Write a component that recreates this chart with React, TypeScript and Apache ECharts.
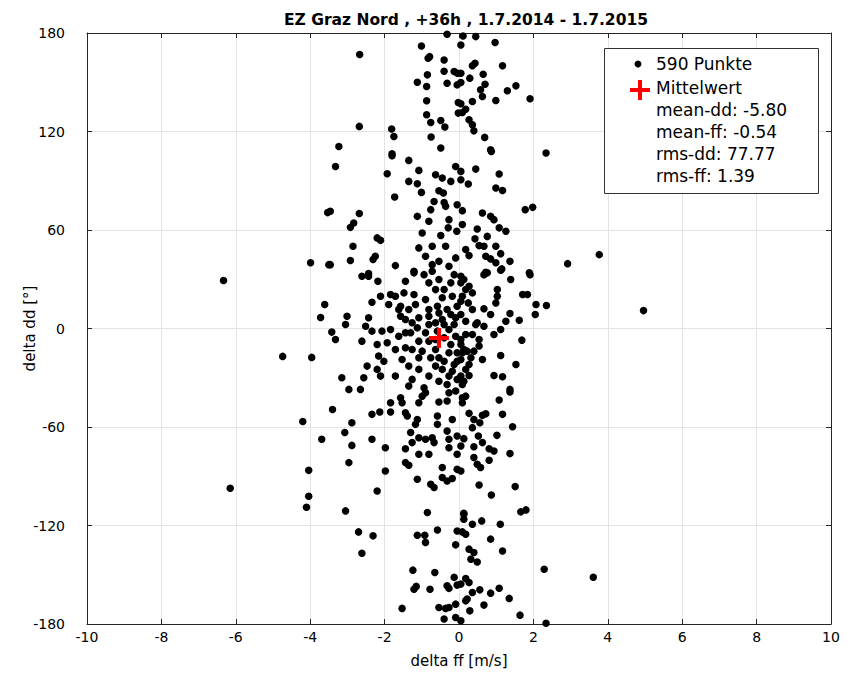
import React, { useEffect, useRef } from "react";
import * as echarts from "echarts";

const chartTitle = "EZ Graz Nord , +36h , 1.7.2014 - 1.7.2015";
const xAxisName = "delta ff [m/s]";
const yAxisName = "delta dd [°]";
const pointCountLabel = "590 Punkte";
const meanLabel = "Mittelwert";
const statLines = ["mean-dd: -5.80", "mean-ff: -0.54", "rms-dd: 77.77", "rms-ff: 1.39"];
const meanPoint: [number, number] = [-0.54, -5.8];

// [delta ff, delta dd]
const scatterPoints: [number, number][] = [
  [-0.32, 179.2], [-1.01, 172.1], [-2.67, 166.9], [-0.79, 165.6], [-0.83, 164.6], [-0.4, 163.6],
  [-0.4, 156.7], [-0.13, 156.5], [-0.04, 155.5], [-0.85, 154.5], [-1.12, 150.0], [-0.87, 147.4],
  [-0.32, 149.4], [-0.05, 148.4], [-0.87, 138.7], [-0.02, 137.7], [-0.87, 130.2], [-0.76, 125.5],
  [-0.49, 126.7], [-0.38, 122.7], [-0.02, 131.2], [-2.68, 123.1], [-1.81, 121.5], [-1.75, 117.0],
  [-0.75, 116.6], [-3.23, 110.9], [-0.49, 109.9], [-1.8, 106.4],
  [0.11, 178.2], [0.45, 177.8], [0.05, 172.7], [0.97, 174.2], [0.36, 160.0], [0.43, 161.6],
  [1.17, 160.0], [0.05, 155.5], [0.65, 154.9], [0.29, 152.5], [0.05, 149.8], [0.7, 148.8],
  [0.58, 145.4], [0.63, 141.3], [1.3, 144.8], [1.53, 147.8], [0.99, 138.9], [1.91, 139.9],
  [0.05, 136.9], [0.36, 138.3], [0.18, 133.6], [0.09, 131.6], [0.27, 127.1], [0.36, 124.1],
  [0.4, 120.4], [0.69, 116.4], [0.85, 108.9], [2.34, 106.9],
  [-3.32, 98.7], [-1.8, 105.2], [-1.93, 94.3], [-1.35, 102.4], [-1.08, 96.3], [-0.63, 93.7],
  [-0.45, 91.7], [-0.22, 89.6], [-0.09, 98.7], [-1.35, 89.6], [-1.12, 88.2], [-1.01, 82.9],
  [-0.54, 83.9], [-0.42, 82.5], [-1.73, 80.1], [-0.67, 77.4], [-0.4, 76.8], [-0.36, 74.4],
  [-0.05, 75.4], [-3.46, 71.4], [-2.68, 70.0], [-1.12, 68.3], [-0.76, 72.4], [-0.81, 65.3],
  [-2.83, 64.3], [-2.92, 61.6], [-0.27, 66.3], [-0.29, 61.3], [-0.06, 59.2], [-0.99, 58.2],
  [-2.2, 55.2], [-2.11, 53.7], [-0.49, 56.6], [-2.85, 50.1], [-1.08, 49.1], [-0.72, 50.1],
  [-0.36, 50.1], [-2.25, 44.0], [-2.31, 42.0], [-2.92, 41.4], [-3.46, 38.9], [-1.71, 38.3],
  [-0.9, 44.0], [-0.72, 38.9], [-0.54, 40.9], [-0.27, 37.9], [-0.09, 43.0], [-1.21, 34.9],
  [-0.72, 34.9], [-2.43, 33.5],
  [0.87, 107.8], [0.05, 95.7], [0.45, 97.1], [1.08, 94.1], [0.05, 90.6], [0.25, 88.0],
  [0.99, 85.6], [1.17, 84.1], [0.09, 71.8], [0.63, 70.4], [0.85, 68.3], [0.94, 66.3],
  [1.78, 72.4], [1.98, 73.8], [0.09, 63.3], [0.49, 60.6], [1.08, 61.3], [1.26, 59.2],
  [0.43, 54.6], [0.76, 56.1], [0.54, 50.5], [0.67, 50.1], [0.99, 50.1], [0.18, 48.1],
  [0.27, 44.4], [1.12, 45.6], [0.72, 44.0], [0.85, 42.4], [0.99, 40.0], [1.37, 40.9],
  [2.92, 39.5], [0.72, 34.2], [1.15, 36.3], [1.89, 33.9],
  [-2.61, 31.8], [-2.43, 31.8], [-2.18, 28.8], [-1.44, 28.8], [-1.21, 33.9], [-0.94, 32.8],
  [-0.81, 27.8], [-0.54, 29.8], [-0.22, 27.8], [-0.13, 32.8], [-2.11, 19.6], [-2.34, 16.0],
  [-1.84, 20.7], [-1.71, 19.6], [-1.48, 21.7], [-1.21, 20.7], [-0.9, 17.6], [-0.45, 18.7],
  [-0.18, 19.6], [-1.89, 14.6], [-1.57, 13.6], [-1.35, 11.6], [-1.17, 14.6], [-0.58, 13.6],
  [-0.32, 11.6], [-0.05, 13.6], [-3.01, 7.5], [-2.43, 6.5], [-1.57, 7.5], [-1.08, 6.5],
  [-0.81, 7.5], [-0.45, 5.5], [-0.09, 6.5], [-3.05, 2.4], [-3.42, -2.2], [-3.32, -6.7],
  [-2.51, 1.4], [-2.34, -1.6], [-2.07, -1.6], [-1.84, -0.6], [-1.62, -4.7], [-1.3, -2.6],
  [-1.12, 0.4], [-0.9, -2.6], [-1.08, -7.7], [-0.81, -7.7], [-0.58, -1.6], [-0.27, -0.6],
  [-0.09, -4.7], [-2.61, -7.7], [-2.2, -9.7], [-1.93, -8.7], [-1.44, -11.7], [-1.26, -12.8],
  [-0.99, -13.8], [-0.63, -12.8], [-0.27, -14.8], [-2.16, -16.8], [-2.02, -19.9], [-2.47, -22.9],
  [-1.53, -18.9], [-1.35, -22.9], [-1.08, -24.9], [-0.63, -22.9], [-0.4, -19.9], [-0.13, -21.9],
  [-2.2, -24.9], [-3.15, -30.0], [-2.56, -30.0], [-2.11, -29.0], [-1.71, -29.0], [-1.26, -31.0],
  [-0.81, -29.0], [-0.54, -32.1], [-0.32, -34.1], [-2.96, -37.1], [-2.65, -37.1], [-1.35, -35.1],
  [-0.94, -36.1], [-0.09, -38.1],
  [-1.62, 11.6], [-1.44, 5.5], [-1.26, 3.5], [-0.81, 2.4], [-0.63, 3.5], [-0.4, -5.7],
  [-0.22, -9.7], [-0.76, -17.8], [-0.45, -24.9], [-0.27, -29.0], [-0.05, -14.8], [-0.05, -31.0],
  [-1.44, -2.6], [-1.71, -12.8], [-1.08, -17.8],
  [-0.63, 23.7], [-0.4, 23.7], [-0.54, 9.5], [-0.22, 8.5], [-0.13, 2.4], [-0.4, 2.4],
  [-0.81, 11.6], [-0.63, -6.7], [-0.05, -19.9], [-0.54, -17.8], [-0.18, -26.0],
  [0.67, 32.8], [0.76, 33.9], [1.12, 35.5], [1.91, 32.8], [0.05, 27.8], [0.27, 25.7],
  [1.39, 29.8], [1.03, 23.7], [1.03, 19.6], [1.71, 20.7], [1.84, 20.7], [0.99, 15.6],
  [0.05, 16.6], [0.25, 15.6], [2.07, 14.6], [2.35, 14.0], [0.36, 11.6], [0.67, 12.0],
  [0.85, 8.5], [1.37, 9.1], [2.05, 8.5], [0.05, 8.5], [0.18, 4.4], [0.49, 3.5],
  [0.67, 1.4], [1.26, 4.4], [1.62, 5.0], [0.36, -3.7], [0.18, -3.7], [1.12, -0.6],
  [0.94, -3.7], [1.69, -7.1], [0.05, -6.7], [0.54, -6.7], [0.54, -10.7], [0.09, -14.8],
  [0.22, -13.8], [0.4, -13.8], [0.05, -18.9], [0.27, -21.9], [0.63, -18.9], [1.12, -16.4],
  [1.53, -21.9], [0.27, -28.6], [0.94, -28.6], [1.17, -29.4], [0.09, -34.1], [1.37, -37.1],
  [0.05, 31.8], [0.13, 29.8], [0.18, 23.7], [0.36, 21.7], [0.09, 19.6], [0.45, 2.4],
  [0.05, -9.7], [0.13, -12.8], [0.32, -17.8], [0.18, -24.9], [0.05, -29.0], [0.13, -32.1],
  [-3.4, -49.3], [-2.88, -57.4], [-2.34, -52.3], [-2.13, -50.9], [-1.84, -45.2], [-1.84, -50.9],
  [-1.57, -42.2], [-1.53, -45.2], [-0.99, -41.2], [-1.08, -45.2], [-0.9, -39.1], [-0.54, -44.8],
  [-0.32, -44.2], [-0.27, -39.1], [-1.44, -51.3], [-1.39, -53.3], [-1.12, -55.4], [-1.17, -58.4],
  [-0.58, -53.3], [-0.58, -58.4], [-0.18, -55.4], [-3.07, -63.4], [-1.3, -63.4], [-1.08, -66.5],
  [-0.9, -67.5], [-0.72, -66.5], [-0.32, -62.5], [-0.27, -67.5], [-0.05, -65.5], [-2.34, -67.5],
  [-2.88, -71.2], [-1.98, -72.6], [-1.44, -73.2], [-1.26, -69.5], [-0.67, -69.5], [-0.27, -72.6],
  [-1.08, -76.6], [-0.81, -76.6], [-0.05, -76.6], [-2.96, -81.7], [-1.44, -81.7], [-1.35, -83.3],
  [-0.45, -84.7], [-0.05, -85.8], [-1.98, -86.8], [-1.12, -91.8], [-0.45, -90.8], [-0.32, -92.9],
  [-0.18, -91.4], [-0.76, -94.9], [-0.67, -96.9], [-2.2, -99.0], [-3.05, -111.1], [-0.85, -112.1],
  [1.37, -38.7], [0.09, -42.2], [0.18, -41.2], [0.09, -45.2], [1.08, -43.6], [0.27, -51.7],
  [0.63, -52.9], [0.72, -51.9], [1.17, -52.3], [0.4, -55.4], [0.56, -57.4], [0.36, -60.4],
  [1.44, -59.8], [0.13, -67.1], [0.52, -65.5], [1.02, -65.1], [0.05, -71.6], [0.63, -69.5],
  [0.4, -72.0], [0.81, -73.2], [0.94, -74.6], [1.37, -76.2], [0.4, -78.6], [0.81, -80.3],
  [0.49, -82.7], [0.58, -84.7], [0.05, -86.8], [0.54, -95.3], [1.51, -96.3], [0.87, -101.4],
  [0.13, -112.5], [1.66, -111.7], [1.8, -110.5],
  [-2.7, -123.9], [-2.31, -126.3], [-2.61, -136.9], [-1.12, -125.9], [-0.92, -125.9], [-0.9, -130.3],
  [-0.58, -122.7], [-0.05, -123.3], [-0.09, -131.8], [-1.24, -147.2], [-0.65, -148.6], [-1.15, -157.1],
  [-1.21, -158.8], [-0.78, -158.8], [-0.32, -156.7], [-0.27, -158.3], [-0.13, -151.6], [-0.05, -156.3],
  [-1.53, -170.5], [-0.54, -169.9], [-0.36, -170.5], [-0.27, -169.9], [-0.09, -167.9], [-0.4, -177.0],
  [-0.09, -176.0],
  [0.13, -113.1], [0.13, -116.2], [0.36, -119.2], [0.61, -117.2], [1.11, -119.2], [0.09, -123.9],
  [0.18, -125.3], [0.85, -128.3], [0.27, -134.4], [0.4, -136.4], [1.17, -135.5], [0.32, -140.5],
  [0.49, -142.2], [2.29, -146.6], [0.18, -152.3], [0.27, -154.7], [0.05, -155.7], [0.56, -159.2],
  [0.36, -160.8], [1.08, -158.2], [0.85, -161.2], [1.35, -164.4], [0.22, -164.8], [0.18, -165.9],
  [0.67, -168.5], [0.29, -172.0], [1.64, -174.6], [0.05, -178.0], [2.34, -179.5],
  [-6.33, 29.2], [-6.15, -97.3], [-4.74, -17.0], [-4.2, -56.6], [-3.53, 70.6], [-3.99, 40.1],
  [-3.5, 38.9], [-3.61, 14.6], [-3.72, 6.7], [-3.96, -17.6], [-3.69, -67.5], [-4.04, -86.4],
  [-4.04, -102.2], [-4.1, -108.9], [3.77, 45.0], [4.96, 10.9], [3.61, -151.5],
];

const FONT = "'DejaVu Sans', 'Liberation Sans', Arial, sans-serif";
const FRAME = "#262626";
const GRID = "#e3e3e3";
const PLUS = "path://M4,0 H6 V4 H10 V6 H6 V10 H4 V6 H0 V4 H4 Z";

export default function App() {
  const ref = useRef<HTMLDivElement>(null);
  useEffect(() => {
    document.body.style.margin = "0";
    if (!ref.current) return;
    const chart = echarts.init(ref.current, null, { renderer: "svg" });
    const axisLabel = { color: "#000", fontSize: 14, fontFamily: FONT };
    const tick = { show: true, inside: true, length: 5, lineStyle: { color: FRAME, width: 1 } };
    const line = { show: true, onZero: false, lineStyle: { color: FRAME, width: 1 } };
    const legX = 604, legY = 48;
    const textX = 656;
    chart.setOption({
      animation: false,
      backgroundColor: "#fff",
      title: {
        text: chartTitle,
        left: 461,
        textAlign: "center",
        top: 7,
        textStyle: { fontFamily: FONT, fontSize: 15.5, fontWeight: "bold", color: "#000" },
      },
      grid: { left: 87, right: 25, top: 33, bottom: 48, containLabel: false },
      xAxis: [
        {
          type: "value", min: -10, max: 10, interval: 2, position: "bottom",
          axisLine: line, axisTick: tick,
          axisLabel: { ...axisLabel, margin: 6 },
          splitLine: { show: true, lineStyle: { color: GRID, width: 1 } },
          name: xAxisName, nameLocation: "middle", nameGap: 29,
          nameTextStyle: { fontFamily: FONT, fontSize: 15, color: "#000" },
        },
        {
          type: "value", min: -10, max: 10, interval: 2, position: "top",
          axisLine: line, axisTick: tick, axisLabel: { show: false }, splitLine: { show: false },
        },
      ],
      yAxis: [
        {
          type: "value", min: -180, max: 180, interval: 60, position: "left",
          axisLine: line, axisTick: tick,
          axisLabel: { ...axisLabel, margin: 22 },
          splitLine: { show: true, lineStyle: { color: GRID, width: 1 } },
          name: yAxisName, nameLocation: "middle", nameGap: 50, nameRotate: 90,
          nameMoveOverlap: false,
          nameTextStyle: { fontFamily: FONT, fontSize: 15, color: "#000" },
        },
        {
          type: "value", min: -180, max: 180, interval: 60, position: "right",
          axisLine: line, axisTick: tick, axisLabel: { show: false }, splitLine: { show: false },
        },
      ],
      series: [
        {
          type: "scatter", name: pointCountLabel, data: scatterPoints,
          symbol: "circle", symbolSize: 7.5, itemStyle: { color: "#000", opacity: 1 }, z: 3,
        },
        {
          type: "scatter", name: meanLabel, data: [meanPoint],
          symbol: PLUS, symbolSize: 20, itemStyle: { color: "#ff0000", opacity: 1 }, z: 5,
        },
      ],
      graphic: [
        {
          type: "rect", left: legX, top: legY, z: 10,
          shape: { width: 214, height: 145 },
          style: { fill: "#fff", stroke: "#333", lineWidth: 1 },
        },
        { type: "circle", z: 11, shape: { cx: 638, cy: 64, r: 3.5 }, style: { fill: "#000" } },
        { type: "rect", z: 11, shape: { x: 630, y: 88, width: 20, height: 4 }, style: { fill: "#ff0000" } },
        { type: "rect", z: 11, shape: { x: 638, y: 80, width: 4, height: 20 }, style: { fill: "#ff0000" } },
        {
          type: "text", z: 11, x: textX, y: 64,
          style: { text: pointCountLabel, fontFamily: FONT, fontSize: 17, fill: "#000", verticalAlign: "middle" },
        },
        {
          type: "text", z: 11, x: textX, y: 88,
          style: { text: meanLabel, fontFamily: FONT, fontSize: 17, fill: "#000", verticalAlign: "middle" },
        },
        ...statLines.map((t, i) => ({
          type: "text", z: 11, x: textX, y: 110 + i * 22,
          style: { text: t, fontFamily: FONT, fontSize: 17, fill: "#000", verticalAlign: "middle" },
        })),
      ],
    });
    return () => chart.dispose();
  }, []);
  return <div ref={ref} style={{ width: 856, height: 673 }} />;
}
